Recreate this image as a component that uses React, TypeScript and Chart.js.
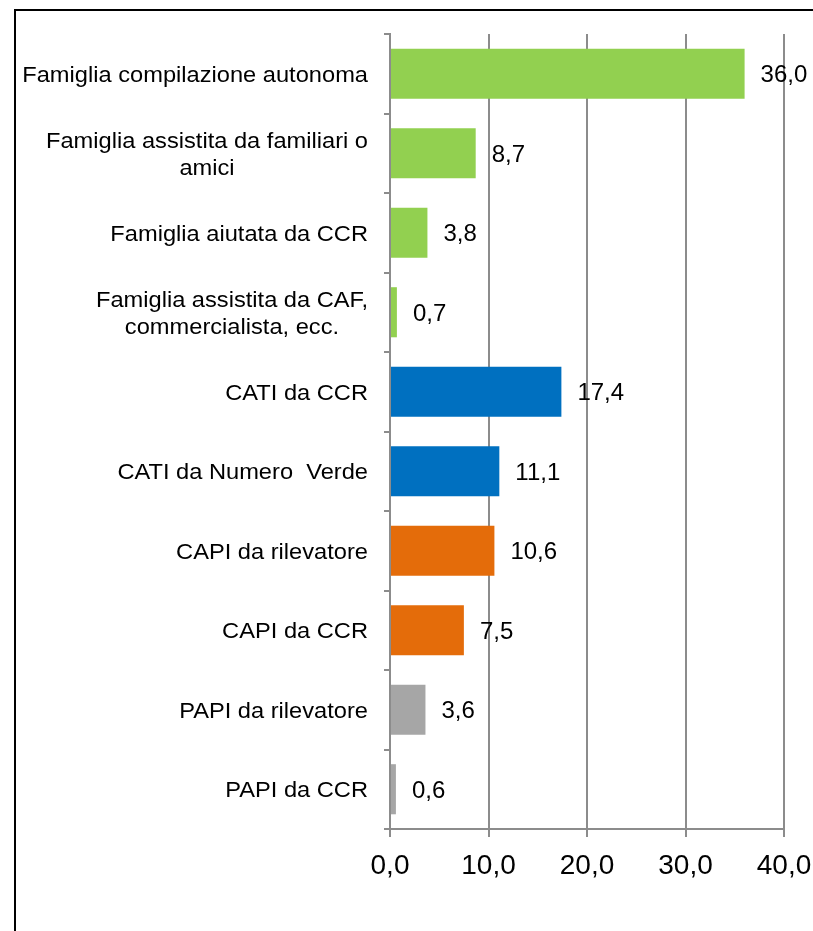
import React, { useEffect, useRef } from 'react';
import { Chart, registerables } from 'chart.js';

Chart.register(...registerables);

const categories: string[][] = [
  ['Famiglia compilazione autonoma'],
  ['Famiglia assistita da familiari o', 'amici'],
  ['Famiglia aiutata da CCR'],
  ['Famiglia assistita da CAF,', 'commercialista, ecc.'],
  ['CATI da CCR'],
  ['CATI da Numero  Verde'],
  ['CAPI da rilevatore'],
  ['CAPI da CCR'],
  ['PAPI da rilevatore'],
  ['PAPI da CCR'],
];

const values: number[] = [36.0, 8.7, 3.8, 0.7, 17.4, 11.1, 10.6, 7.5, 3.6, 0.6];

const barColors: string[] = [
  '#92D050', '#92D050', '#92D050', '#92D050',
  '#0070C0', '#0070C0',
  '#E46C0A', '#E46C0A',
  '#A6A6A6', '#A6A6A6',
];

const xMin = 0;
const xMax = 40;
const xStep = 10;

const FONT = '"Liberation Sans", Arial, sans-serif';
const fmt = (v: number) => v.toFixed(1).replace('.', ',');

const yLabelPlugin = {
  id: 'yLabelPlugin',
  afterDraw(chart: any) {
    const scale = chart.scales.y;
    const ctx = chart.ctx as CanvasRenderingContext2D;
    const SX = 1.1;
    const LH = 27;
    ctx.save();
    ctx.font = `21.5px ${FONT}`;
    ctx.fillStyle = '#000000';
    ctx.textBaseline = 'middle';
    ctx.textAlign = 'center';
    (chart.data.labels as any[]).forEach((lab, i) => {
      const lines: string[] = Array.isArray(lab) ? lab : [String(lab)];
      const yc = scale.getPixelForValue(i) + 2;
      const w = Math.max(...lines.map((l) => ctx.measureText(l).width * SX));
      const cx = scale.right - 22 - w / 2;
      lines.forEach((l, k) => {
        const y = yc + (k - (lines.length - 1) / 2) * LH;
        ctx.save();
        ctx.translate(cx, y);
        ctx.scale(SX, 1);
        ctx.fillText(l, 0, 0);
        ctx.restore();
      });
    });
    ctx.restore();
  },
};

const valueLabelPlugin = {
  id: 'valueLabelPlugin',
  afterDatasetsDraw(chart: any) {
    const ctx = chart.ctx as CanvasRenderingContext2D;
    const meta = chart.getDatasetMeta(0);
    const data = chart.data.datasets[0].data as number[];
    ctx.save();
    ctx.font = `24px ${FONT}`;
    ctx.fillStyle = '#000000';
    ctx.textAlign = 'left';
    ctx.textBaseline = 'middle';
    meta.data.forEach((bar: any, i: number) => {
      ctx.fillText(fmt(data[i]), bar.x + 16, bar.y + 2);
    });
    ctx.restore();
  },
};

export default function App() {
  const ref = useRef<HTMLCanvasElement>(null);

  useEffect(() => {
    if (!ref.current) return;
    const chart = new Chart(ref.current, {
      type: 'bar',
      data: {
        labels: categories,
        datasets: [
          {
            data: values,
            backgroundColor: barColors,
            borderWidth: 0,
            barPercentage: 0.63,
            categoryPercentage: 1,
          },
        ],
      },
      options: {
        indexAxis: 'y',
        responsive: false,
        devicePixelRatio: 1,
        animation: false,
        layout: { padding: { top: 34, right: 29, left: 0, bottom: 0 } },
        plugins: {
          legend: { display: false },
          tooltip: { enabled: false },
        },
        scales: {
          x: {
            min: xMin,
            max: xMax,
            afterFit: (s: any) => {
              s.height = 102;
              s.paddingRight = 0;
              s.paddingLeft = 0;
            },
            ticks: {
              stepSize: xStep,
              color: '#000000',
              font: { family: FONT, size: 28 },
              padding: 12,
              callback: (v: any) => fmt(Number(v)),
            },
            grid: {
              color: '#8c8c8c',
              lineWidth: 2,
              tickLength: 8,
              tickColor: '#8c8c8c',
              drawOnChartArea: true,
            },
            border: { color: '#8c8c8c', width: 2 },
          },
          y: {
            afterFit: (s: any) => {
              s.width = 390;
              s.paddingTop = 0;
              s.paddingBottom = 0;
            },
            ticks: { display: false },
            grid: {
              offset: true,
              drawOnChartArea: false,
              drawTicks: true,
              tickLength: 6,
              tickColor: '#8c8c8c',
              lineWidth: 2,
            },
            border: { color: '#8c8c8c', width: 2 },
          },
        },
      },
      plugins: [yLabelPlugin, valueLabelPlugin],
    });
    return () => chart.destroy();
  }, []);

  return (
    <div
      style={{
        position: 'fixed',
        left: 0,
        top: 0,
        width: 813,
        height: 931,
        overflow: 'hidden',
        background: '#ffffff',
      }}
    >
      <div
        style={{
          position: 'absolute',
          left: 14,
          top: 9,
          width: 900,
          height: 1000,
          border: '2px solid #000000',
          boxSizing: 'border-box',
        }}
      />
      <canvas
        ref={ref}
        width={813}
        height={931}
        style={{ position: 'absolute', left: 0, top: 0, width: 813, height: 931 }}
      />
    </div>
  );
}
